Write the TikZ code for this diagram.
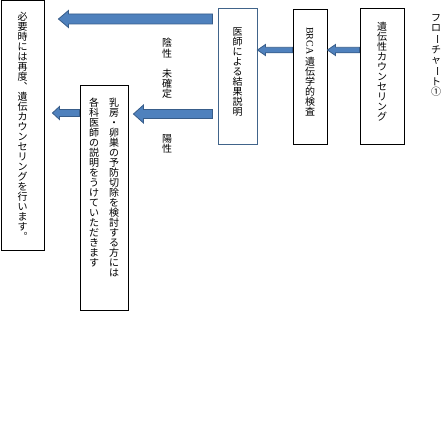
\documentclass[tikz,border=0pt]{standalone}
\usepackage{fontspec}
\usepackage{graphicx}
\newfontfamily\jpfont{Noto Sans CJK JP}
\newfontfamily\latinfont{Liberation Serif}
\usetikzlibrary{calc}
\definecolor{arrowblue}{HTML}{4F81BD}
\definecolor{arrowedge}{HTML}{385D8A}
\definecolor{slateedge}{HTML}{41648A}
% vertical (tategaki) column: one character per line
\makeatletter
\def\vcol@end{\vcol@end}
\newcommand\vcol[1]{\vtop{\offinterlineskip\vcol@go#1\vcol@end}}
\def\vcol@go#1{\ifx\vcol@end#1\else\hbox to1em{\hss\vrule height.88em depth.12em width0pt#1\hss}\expandafter\vcol@go\fi}
\makeatother
\newcommand\chon{\rotatebox[origin=c]{-90}{ー}}
\newcommand\brca{\raisebox{.88em}{\rotatebox{-90}{\latinfont BRCA\ }}}
\newcommand\tatebox[2]{\vbox to #1pt{\hbox{#2}\vfil}}

\begin{document}
\begin{tikzpicture}[x=1pt,y=-1pt,
box/.style={draw=black,line width=0.9pt,inner sep=0pt,font=\jpfont\fontsize{10}{10}\selectfont},
verdict/.style={inner sep=0pt,anchor=north,font=\jpfont\fontsize{10}{10}\selectfont},
blockarrow/.style={fill=arrowblue,draw=arrowedge,line width=0.8pt,line join=miter}]
\useasboundingbox (0,0) rectangle (446,436);
% steps, right to left
\node[verdict] (title) at (436,13) {\vcol{フロ\chon チャ\chon ト①}};
\node[box,minimum width=44pt,minimum height=136pt] (counsel) at (382,76) {\tatebox{108}{\vcol{遺伝性カウンセリング}}};
\node[box,minimum width=34pt,minimum height=135pt] (test) at (310,76.5) {\tatebox{99}{\vcol{\brca 遺伝学的検査}}};
\node[box,draw=slateedge,minimum width=39pt,minimum height=136pt] (result) at (237.5,76) {\tatebox{98}{\vcol{医師による結果説明}}};
\node[box,minimum width=48pt,minimum height=225pt] (surgery) at (104,197.5) {\tatebox{199}{\vcol{各科医師の説明をうけていただきます}\hskip10pt\vcol{乳房・卵巣の予防切除を検討する方には}}};
\node[box,minimum width=43pt,minimum height=250pt] (again) at (22.5,125) {\tatebox{226}{\vcol{必要時には再度︑遺伝カウンセリングを行います︒}}};
\node[verdict] (negative) at (167,38) {\vcol{陰性　未確定}};
\node[verdict] (positive) at (167,133) {\vcol{陽性}};
% block arrows
\foreach \src/\dst/\ya/\gs/\gd/\sw/\hw/\hl in {
counsel/test/50/0/0/2.75/5.5/8,
test/result/50/0/0/2.75/5.5/8,
result/again/19/5/14/5/8.5/10,
result/surgery/114/5/5/4.5/9/10,
surgery/again/113/0/8/3.5/6.5/7}{
\path ($(\src.west |- 0,\ya)+(-\gs,0)$) coordinate (tail)
($(\dst.east |- 0,\ya)+(\gd,0)$) coordinate (tip);
\filldraw[blockarrow] ($(tail)+(0,\sw)$) -- ($(tip)+(\hl,\sw)$) -- ($(tip)+(\hl,\hw)$) -- (tip)
-- ($(tip)+(\hl,-\hw)$) -- ($(tip)+(\hl,-\sw)$) -- ($(tail)+(0,-\sw)$) -- cycle;}
\end{tikzpicture}
\end{document}
